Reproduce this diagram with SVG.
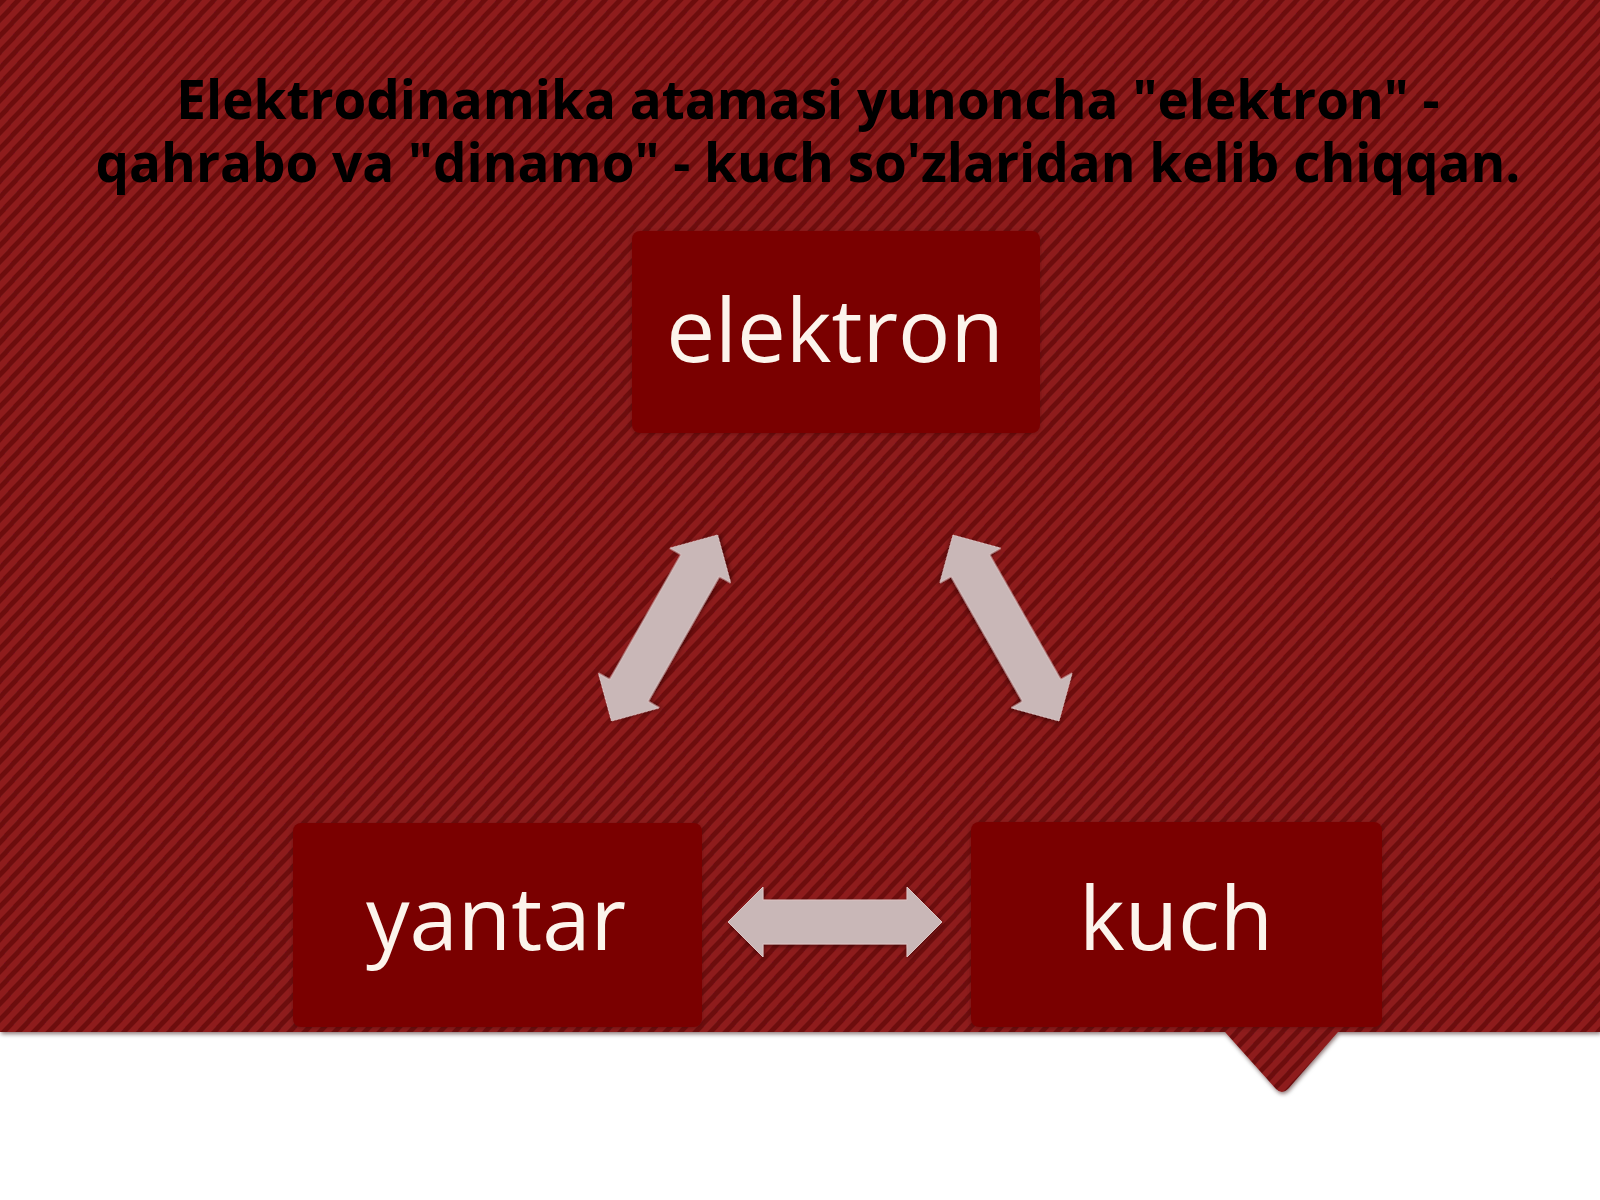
<svg xmlns="http://www.w3.org/2000/svg" width="1600" height="1200" viewBox="0 0 1600 1200">
  <defs>
    <pattern id="stripes" patternUnits="userSpaceOnUse" width="11" height="11" patternTransform="rotate(43)">
      <rect x="0" y="0" width="11" height="11" fill="#8e1c1c"/>
      <rect x="0" y="0" width="5" height="11" fill="#6d1011"/>
    </pattern>
    <filter id="shadow" x="-10%" y="-10%" width="120%" height="130%">
      <feDropShadow dx="1" dy="2" stdDeviation="2" flood-color="#2a0000" flood-opacity="0.55"/>
    </filter>
    <filter id="boxshadow" x="-5%" y="-5%" width="110%" height="115%">
      <feDropShadow dx="0" dy="1" stdDeviation="2" flood-color="#3a0000" flood-opacity="0.4"/>
    </filter>
    <polygon id="dblarrow" points="-107,0 -72,-35 -72,-22 72,-22 72,-35 107,0 72,35 72,22 -72,22 -72,35"/>
    <style>
      .title { font-family: "Open Sans", "Noto Sans", "Liberation Sans", sans-serif; font-weight: 700; font-size: 53px; fill: #000000; }
      .box { fill: #7a0000; filter: url(#boxshadow); }
      .label { font-family: "Open Sans", "Noto Sans", "Liberation Sans", sans-serif; font-weight: 400; font-size: 87px; fill: #fcf4ec; text-anchor: middle; }
      .arrow { fill: #c9b7b7; stroke: #dcc4c4; stroke-width: 1; filter: url(#shadow); }
    </style>
  </defs>

  <!-- background -->
  <rect x="0" y="0" width="1600" height="1200" fill="#ffffff"/>
  <g filter="url(#shadow)">
    <path d="M0,0 H1600 V1032 H1338 L1288,1089 Q1282,1095 1276,1089 L1225,1032 H0 Z" fill="url(#stripes)"/>
  </g>

  <!-- title -->
  <g id="title">
    <text class="title" text-anchor="middle"><tspan x="808" y="119">Elektrodinamika atamasi yunoncha "elektron" -</tspan><tspan x="808" y="182">qahrabo va "dinamo" - kuch so'zlaridan kelib chiqqan.</tspan></text>
  </g>

  <!-- connectors -->
  <g id="connectors">
    <use href="#dblarrow" class="arrow" transform="translate(664.5,628) rotate(-60.3)"/>
    <use href="#dblarrow" class="arrow" transform="translate(1006,628) rotate(60.3)"/>
    <use href="#dblarrow" class="arrow" transform="translate(835,922)"/>
  </g>

  <!-- nodes -->
  <g id="node-elektron">
    <rect class="box" x="632" y="231" width="408" height="202" rx="8"/>
    <text class="label" x="835" y="362">elektron</text>
  </g>
  <g id="node-yantar">
    <rect class="box" x="293" y="823" width="409" height="204" rx="8"/>
    <text class="label" x="496" y="950">yantar</text>
  </g>
  <g id="node-kuch">
    <rect class="box" x="971" y="822" width="411" height="205" rx="8"/>
    <text class="label" x="1176" y="950">kuch</text>
  </g>
</svg>
